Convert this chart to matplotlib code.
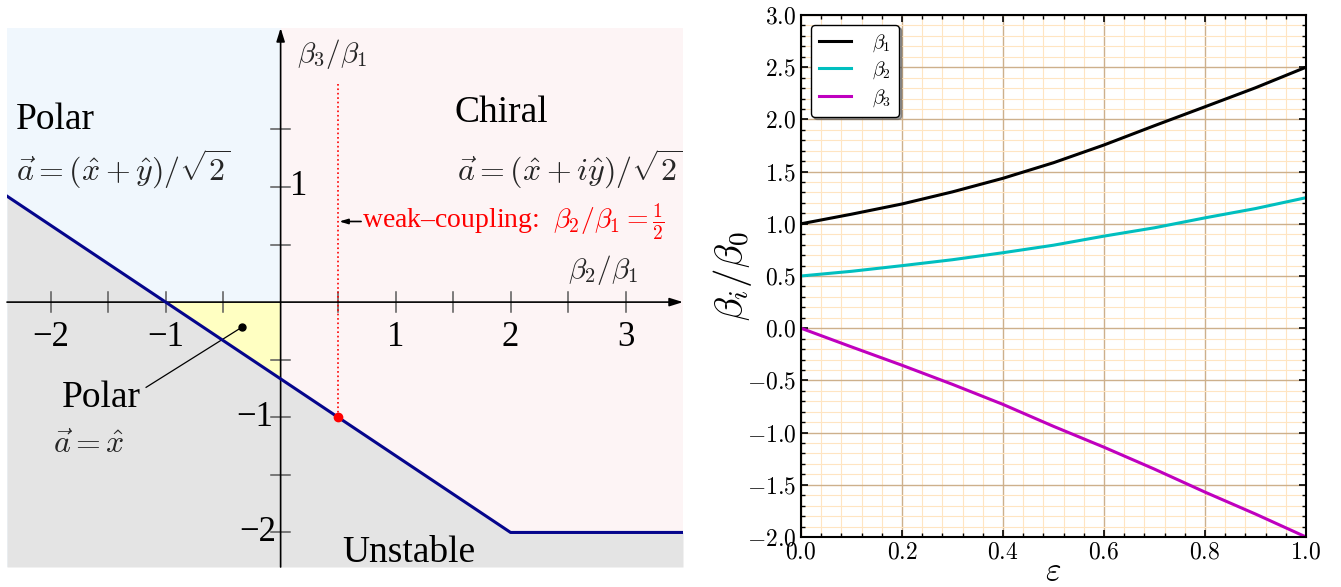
import numpy as np
import matplotlib.pyplot as plt
from matplotlib.ticker import MultipleLocator

plt.rcParams['mathtext.fontset'] = 'cm'
plt.rcParams['font.family'] = 'serif'
plt.rcParams['font.serif'] = ['cmr10', 'DejaVu Serif']
plt.rcParams['axes.formatter.use_mathtext'] = True

# Фазовая диаграмма (левая панель)
boundary_b2 = [-2.38, -1.0, 0.5, 2.0, 3.5]
boundary_b3 = [0.92, 0.0, -1.0, -2.0, -2.0]
pocket_b2 = [-1.0, 0.0, 0.0]
pocket_b3 = [0.0, 0.0, -0.667]
left_xticks = [-2, -1.5, -1, -0.5, 0.5, 1, 1.5, 2, 2.5, 3]
left_xlabels = {-2: '\u22122', -1: '\u22121', 1: '1', 2: '2', 3: '3'}
left_yticks = [1.5, 1, 0.5, -0.5, -1, -1.5, -2]
weak_point = (0.5, -1.0)
polar_point = (-0.34, -0.22)

# Константы связи (правая панель)
eps = [0.0, 0.1, 0.2, 0.3, 0.4, 0.5, 0.6, 0.7, 0.8, 0.9, 1.0]
beta1 = [1.0, 1.092, 1.19, 1.306, 1.436, 1.585, 1.755, 1.94, 2.121, 2.303, 2.5]
beta2 = [0.5, 0.545, 0.599, 0.656, 0.723, 0.795, 0.882, 0.962, 1.057, 1.146, 1.25]
beta3 = [0.0, -0.179, -0.355, -0.538, -0.73, -0.94, -1.14, -1.35, -1.57, -1.78, -2.0]

XMIN, XMAX, YMIN, YMAX = -2.38, 3.50, -2.30, 2.38
TXT = 'Liberation Serif'

fig = plt.figure(figsize=(13.41, 5.87), dpi=100)

ax = fig.add_axes([7 / 1341, 20 / 587, 676 / 1341, 539 / 587])
ax.set_xlim(XMIN, XMAX)
ax.set_ylim(YMIN, YMAX)
ax.axis('off')

ax.axvspan(XMIN, 0, color='#f0f7fd', lw=0)
ax.axvspan(0, XMAX, color='#fdf4f5', lw=0)
ax.fill_between(boundary_b2, boundary_b3, YMIN, color='#e4e4e4', lw=0)
ax.fill(pocket_b2, pocket_b3, color='#ffffc2', lw=0)
ax.plot(boundary_b2, boundary_b3, color='#05058c', lw=2.2, zorder=4)

# оси со стрелками
ax.annotate('', xy=(XMAX, 0), xytext=(XMIN, 0),
            arrowprops=dict(arrowstyle='-|>,head_length=0.8,head_width=0.25',
                            color='black', lw=1.2, shrinkA=0, shrinkB=0))
ax.annotate('', xy=(0, YMAX), xytext=(0, YMIN),
            arrowprops=dict(arrowstyle='-|>,head_length=0.8,head_width=0.25',
                            color='black', lw=1.2, shrinkA=0, shrinkB=0))
for t in left_xticks:
    ax.plot([t, t], [-0.09, 0.09], color='0.35', lw=1.1)
    if t in left_xlabels:
        ax.text(t, -0.31, left_xlabels[t], family=TXT, fontsize=25,
                ha='center', va='center')
for t in left_yticks:
    ax.plot([-0.08, 0.08], [t, t], color='0.35', lw=1.1)
ax.text(0.16, 1.0, '1', family=TXT, fontsize=25, ha='center', va='center')
ax.text(-0.06, -1.0, '\u22121', family=TXT, fontsize=25, ha='right', va='center')
ax.text(-0.04, -2.0, '\u22122', family=TXT, fontsize=25, ha='right', va='center')

ax.text(0.14, 2.15, r'$\beta_3/\beta_1$', fontsize=21, color='0.15',
        ha='left', va='center')
ax.text(2.5, 0.28, r'$\beta_2/\beta_1$', fontsize=21, color='0.15',
        ha='left', va='center')

ax.text(-2.30, 1.58, 'Polar', family=TXT, fontsize=27, ha='left', va='center')
ax.text(-2.30, 1.15, r'$\vec{a}=(\hat{x}+\hat{y})/\sqrt{2}$', fontsize=23,
        color='0.15', ha='left', va='center')
ax.text(1.51, 1.64, 'Chiral', family=TXT, fontsize=27, ha='left', va='center')
ax.text(3.50, 1.15, r'$\vec{a}=(\hat{x}+i\hat{y})/\sqrt{2}$', fontsize=23,
        color='0.15', ha='right', va='center')
ax.text(-1.90, -0.83, 'Polar', family=TXT, fontsize=27, ha='left', va='center')
ax.text(-1.98, -1.24, r'$\vec{a}=\hat{x}$', fontsize=23, color='0.15',
        ha='left', va='center')
ax.text(0.54, -2.18, 'Unstable', family=TXT, fontsize=27, ha='left', va='center')

# слабая связь
ax.plot([weak_point[0], weak_point[0]], [1.89, weak_point[1]], color='red',
        ls=':', lw=1.2)
ax.plot(*weak_point, 'o', color='red', ms=6, zorder=5)
ax.annotate('', xy=(0.51, 0.70), xytext=(0.70, 0.70),
            arrowprops=dict(arrowstyle='-|>,head_length=0.5,head_width=0.15',
                            color='black', lw=1.2, shrinkA=0, shrinkB=0))
ax.text(0.71, 0.70, 'weak\u2013coupling:  $\\beta_2/\\beta_1=\\frac{1}{2}$',
        family=TXT, fontsize=20, color='red', ha='left', va='center')

ax.plot([polar_point[0], -1.17], [polar_point[1], -0.74], color='black', lw=0.9)
ax.plot(*polar_point, 'o', color='black', ms=5)

# правая панель
ax2 = fig.add_axes([801 / 1341, 50 / 587, 505 / 1341, 522 / 587])
ax2.plot(eps, beta1, color='k', lw=2.2, label=r'$\beta_1$')
ax2.plot(eps, beta2, color='c', lw=2.2, label=r'$\beta_2$')
ax2.plot(eps, beta3, color='m', lw=2.2, label=r'$\beta_3$')
ax2.set_xlim(0, 1)
ax2.set_ylim(-2, 3)
ax2.xaxis.set_major_locator(MultipleLocator(0.2))
ax2.xaxis.set_minor_locator(MultipleLocator(0.04))
ax2.yaxis.set_major_locator(MultipleLocator(0.5))
ax2.yaxis.set_minor_locator(MultipleLocator(0.1))
ax2.grid(which='major', color='#cdb08c', lw=1.0)
ax2.grid(which='minor', color='#ffe5c2', lw=0.8)
ax2.set_axisbelow(True)
ax2.tick_params(which='both', direction='in', top=True, right=True,
                labelsize=17)
ax2.tick_params(which='major', length=5, width=1.2)
ax2.tick_params(which='minor', length=3, width=1.0)
for s in ax2.spines.values():
    s.set_linewidth(1.5)
ax2.set_xlabel(r'$\varepsilon$', fontsize=24, labelpad=-5)
ax2.set_ylabel(r'$\beta_i/\beta_0$', fontsize=28, labelpad=-5)
leg = ax2.legend(loc='upper left', fontsize=14, shadow=True, fancybox=True,
                 framealpha=1, handlelength=1.65, handletextpad=1.1,
                 borderpad=0.4, labelspacing=0.3)
leg.get_frame().set_edgecolor('black')
leg.get_frame().set_linewidth(1.0)

fig.savefig('out.png', dpi=100)
